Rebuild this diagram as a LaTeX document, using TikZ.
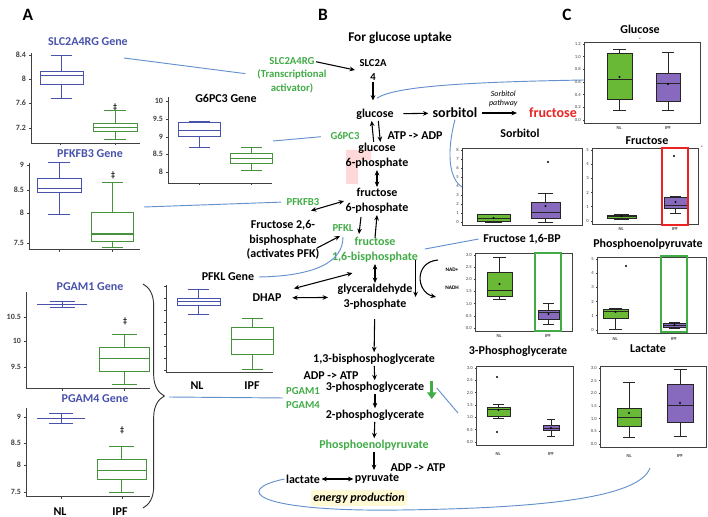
\documentclass[tikz,border=0pt]{standalone}
\usepackage{fontspec}
\setmainfont{Carlito}
\usepackage{tikz}
\usetikzlibrary{calc}
\usetikzlibrary{decorations.pathreplacing}
\usetikzlibrary{arrows.meta,arrows}

\definecolor{geneblue}{RGB}{72,82,170}
\definecolor{ipfgreen}{RGB}{70,145,60}
\definecolor{enzgreen}{RGB}{65,172,70}
\definecolor{linkblue}{RGB}{100,145,205}
\definecolor{nlfill}{RGB}{105,185,55}
\definecolor{ipffill}{RGB}{135,105,190}
\definecolor{frured}{RGB}{235,35,35}
\definecolor{glow}{RGB}{255,250,212}

\tikzset{
  met/.style={font=\bfseries\fontsize{9}{11}\selectfont, align=center, inner sep=1pt},
  enz/.style={font=\bfseries\fontsize{8}{10}\selectfont, align=center, inner sep=1pt, text=enzgreen},
  gene/.style={font=\bfseries\fontsize{9}{11}\selectfont, text=geneblue},
  ctitle/.style={font=\bfseries\fontsize{9}{11}\selectfont},
  ticklab/.style={font=\bfseries\fontsize{6}{7}\selectfont, inner sep=1.5pt},
  ctick/.style={font=\fontsize{3.5}{4}\selectfont, inner sep=1pt},
  react/.style={line width=0.8pt, -{Stealth[length=4pt,width=3.5pt]}},
  both/.style={line width=0.8pt, {Stealth[length=4pt,width=3.5pt]}-{Stealth[length=4pt,width=3.5pt]}},
  link/.style={draw=linkblue, line width=0.7pt},
  axis/.style={black!75, line width=0.7pt},
  gbox/.style={line width=0.75pt},
  cbox/.style={black!85, line width=0.5pt},
  cline/.style={black!75, line width=0.5pt},
}

% frame of a metabolite plot: x1, y1, x2, y2, number of steps, tick labels
\newcommand{\cframe}[6]{%
  \draw[cline] (#1,#2) rectangle (#3,#4);
  \foreach \lab [count=\k from 0] in {#6}
    \draw[cline] (#1,{#2+2+\k*(#4-#2-5)/#5}) -- ++(-1.5,0) node[left, ctick] {\lab};
}

\begin{document}
\begin{tikzpicture}[x=0.75pt, y=-0.75pt]
    \useasboundingbox (0,0) rectangle (708,517);

    \node[font=\bfseries\fontsize{13}{15}\selectfont] (labA) at (28,15) {A};
    \node[font=\bfseries\fontsize{13}{15}\selectfont] (labB) at (323,15) {B};
    \node[font=\bfseries\fontsize{13}{15}\selectfont] (labC) at (567,15) {C};

    % ---------- panel A: gene plots
    \node[gene] (slcgene) at (88,42) {SLC2A4RG Gene};
    \draw[axis] (31,53) -- (31,143) -- (140,143);
    \foreach \v/\y in {8.4/55,8/79,7.6/103,7.2/128}
      \draw[axis] (31,\y) -- ++(-2.5,0) node[left, ticklab] {\v};
    \foreach \x in {60,115} \draw[axis] (\x,143) -- ++(0,2.5);
    \node[ticklab] (dag1) at (115,107) {\ddag};

    \node[gene] (pfkgene) at (90,154) {PFKFB3 Gene};
    \draw[axis] (29,163) -- (29,249) -- (140,249);
    \foreach \v/\y in {9/165,8.5/190,8/213,7.5/243}
      \draw[axis] (29,\y) -- ++(-2.5,0) node[left, ticklab] {\v};
    \foreach \x in {59,112} \draw[axis] (\x,249) -- ++(0,2.5);
    \node[ticklab] (dag2) at (113,175) {\ddag};

    \node[font=\bfseries\fontsize{9}{11}\selectfont] (g6gene) at (226,98) {G6PC3 Gene};
    \draw[axis] (168,97) -- (168,183) -- (272,183);
    \foreach \v/\y in {10/101,9.5/119,9/137,8.5/154,8/172}
      \draw[axis] (168,\y) -- ++(-2.5,0) node[left, ticklab] {\v};
    \foreach \x in {199,251} \draw[axis] (\x,183) -- ++(0,2.5);

    \node[font=\bfseries\fontsize{9}{11}\selectfont] (pfklgene) at (228,277) {PFKL Gene};
    \draw[axis] (166,285) -- (166,372) -- (273,372);
    \foreach \y in {286,298,...,370} \draw[axis] (166,\y) -- ++(-2.5,0);
    \node[met] (nl1) at (197,386) {NL};
    \node[met] (ipf1) at (252,386) {IPF};

    \node[gene] (pgam1gene) at (90,287) {PGAM1 Gene};
    \draw[axis] (26,292) -- (26,388) -- (150,388);
    \foreach \v/\y in {10.5/317,10/341,9.5/367}
      \draw[axis] (26,\y) -- ++(-2.5,0) node[left, ticklab] {\v};
    \foreach \x in {62,124} \draw[axis] (\x,388) -- ++(0,2.5);
    \node[ticklab] (dag3) at (125,321) {\ddag};

    \node[gene] (pgam4gene) at (95,399) {PGAM4 Gene};
    \draw[axis] (26,408) -- (26,496) -- (150,496);
    \foreach \v/\y in {9/417,8.5/443,8/465,7.5/492}
      \draw[axis] (26,\y) -- ++(-2.5,0) node[left, ticklab] {\v};
    \foreach \x in {61,122} \draw[axis] (\x,496) -- ++(0,2.5);
    \node[ticklab] (dag4) at (122,430) {\ddag};
    \node[met] (nl2) at (60,512) {NL};
    \node[met] (ipf2) at (120,512) {IPF};

    \foreach \xa/\xb/\wt/\bt/\md/\bb/\wb/\col in {
      40/83/56/72/76/85/99/geneblue, 93/137/111/124/128/132/140/ipfgreen,
      37/81/163/179/189/193/215/geneblue, 91/133/183/213/234/241/247/ipfgreen,
      178/220/122/123/131/137/148/geneblue, 230/272/148/154/159/164/171/ipfgreen,
      177/220/289/298/301/305/314/geneblue, 231/273/318/327/339/354/369/ipfgreen,
      37/87/301/304/304/304/307/geneblue, 99/149/334/347/358/371/384/ipfgreen,
      37/85/413/418/418/418/423/geneblue, 97/146/446/459/470/479/492/ipfgreen}
    {
      \pgfmathsetmacro\xm{(\xa+\xb)/2}
      \pgfmathsetmacro\cw{(\xb-\xa)/4}
      \draw[gbox, draw=\col] (\xa,\bt) rectangle (\xb,\bb) (\xa,\md) -- (\xb,\md)
        (\xm,\bt) -- (\xm,\wt) (\xm-\cw,\wt) -- (\xm+\cw,\wt)
        (\xm,\bb) -- (\xm,\wb) (\xm-\cw,\wb) -- (\xm+\cw,\wb);
    }

    \draw[black!80, line width=0.7pt, decorate, decoration={brace, amplitude=16pt}] (143,284) -- (143,508);

    % ---------- panel B: pathway
    \fill[red!15] (346,150) -- (371,150) -- (371,160) -- (358,160) -- (358,184) -- (346,184) -- cycle;

    \node[met, font=\bfseries\fontsize{10}{12}\selectfont] (uptake) at (400,38) {For glucose uptake};
    \node[enz] (slcrg) at (292,75) {SLC2A4RG\\(Transcriptional\\activator)};
    \node[met, font=\bfseries\fontsize{8}{10}\selectfont] (slc) at (373,70) {SLC2A\\4};
    \node[met] (glc) at (375,114) {glucose};
    \node[met, font=\bfseries\fontsize{10.5}{12}\selectfont] (sorb) at (455,113) {sorbitol};
    \node[met, font=\bfseries\fontsize{10.5}{12}\selectfont, text=frured] (fru) at (553,113) {fructose};
    \node[met] (atp1) at (415,136) {ATP -> ADP};
    \node[enz] (g6pc3) at (345,136) {G6PC3};
    \node[met] (g6p) at (377,156) {glucose\\6-phosphate};
    \node[met] (f6p) at (377,201) {fructose\\6-phosphate};
    \node[enz] (pfkfb3) at (303,202) {PFKFB3};
    \node[met] (f26bp) at (283,240) {Fructose 2,6-\\bisphosphate\\(activates PFK)};
    \node[enz] (pfkl) at (343,228) {PFKL};
    \node[met, text=enzgreen] (f16bp) at (375,250) {fructose\\1,6-bisphosphate};
    \node[met] (gap) at (375,297) {glyceraldehyde\\3-phosphate};
    \node[met] (dhap) at (267,298) {DHAP};
    \node[font=\bfseries\fontsize{4}{5}\selectfont] (nadp) at (452,270) {NAD+};
    \node[font=\bfseries\fontsize{4}{5}\selectfont] (nadh) at (452,288) {NADH};
    \node[met] (bpg) at (374,359) {1,3-bisphosphoglycerate};
    \node[met] (adp1) at (331,376) {ADP -> ATP};
    \node[met] (pg3) at (375,387) {3-phosphoglycerate};
    \node[enz] (pgam) at (303,398) {PGAM1\\PGAM4};
    \node[met] (pg2) at (375,415) {2-phosphoglycerate};
    \node[met, text=enzgreen] (pep) at (374,445) {Phosphoenolpyruvate};
    \node[met] (adp2) at (418,468) {ADP -> ATP};
    \node[met] (lac) at (303,479) {lactate};
    \node[met] (pyr) at (377,479) {pyruvate};
    \node[met, font=\bfseries\itshape\fontsize{9}{11}\selectfont, fill=glow, inner sep=2pt] (energy) at (359,498) {energy production};

    \draw[react] ($(slcrg.north east)+(-12,6)$) -- ($(slc.west)+(-3,0)$);
    \draw[react, shorten >=5pt] (slc.south) -- (slc.south |- glc.north);
    \draw[react, shorten <=6pt, shorten >=2pt] (glc) -- (sorb);
    \draw[react, shorten <=2pt, shorten >=8pt] (sorb) -- node[above=1pt, font=\itshape\fontsize{6}{7}\selectfont, align=center] {Sorbitol\\pathway} (fru);
    \draw[react] ([xshift=-2.5pt]g6p.north) -- ([xshift=-2.5pt]glc.south);
    \draw[react] ([xshift=2.5pt]glc.south) -- ([xshift=2.5pt]g6p.north);
    \draw[both] (g6p) -- (f6p);
    \draw[both] ($(f26bp.north east)+(-10,-8)$) -- (f6p.west);
    \draw[react] ($(f26bp.east)+(-4,8)$) -- ($(pfkl.south)+(-3,3)$);
    \draw[react] ($(f6p.south)+(-16,2)$) -- ($(f16bp.north)+(-16,-2)$);
    \draw[react] ($(f16bp.north)+(0,2)$) -- (f6p.south);
    \draw[both] (f16bp) -- (gap);
    \draw[both, shorten <=7pt, shorten >=6pt] (dhap) -- (gap);
    \draw[both] ($(dhap.north east)+(11,-4)$) -- ($(f16bp.south west)+(22,9)$);
    \draw[react] ($(f16bp.east)+(-4,10)$) -- ($(f16bp.east |- gap.center)+(-4,0)$);
    \coordinate (nadtop) at (438,260);
    \coordinate (nadbot) at (436,297);
    \draw[react] (nadtop) .. controls (414,262) and (416,292) .. (nadbot);
    \draw[react, shorten <=6pt] (gap) -- (bpg);
    \draw[react] (bpg) -- (pg3);
    \draw[react] (pg3) -- (pg2);
    \draw[react] (pg2) -- (pep);
    \draw[react, shorten >=2pt] (pep.south) -- (pep.south |- pyr.north);
    \draw[both] (lac) -- (pyr);
    \draw[enzgreen, line width=2.2pt, -{Triangle[length=5pt,width=7pt]}] ($(pg3.east)+(6,-6)$) -- ($(pg3.east)+(6,12)$);

    % ---------- panel C: metabolite plots
    \node[ctitle] (glctitle) at (640,29) {Glucose};
    \node[ctitle] (sorbtitle) at (520,133) {Sorbitol};
    \node[ctitle] (frutitle) at (647,141) {Fructose};
    \node[ctitle] (fbptitle) at (522,239) {Fructose 1,6-BP};
    \node[ctitle] (peptitle) at (648,244) {Phosphoenolpyruvate};
    \node[ctitle] (pgtitle) at (518,351) {3-Phosphoglycerate};
    \node[ctitle] (lactitle) at (648,349) {Lactate};
    \node[font=\fontsize{5}{6}\selectfont] (glcmark) at (640,39) {-};
    \node[font=\fontsize{5}{6}\selectfont] (frumark) at (702,147) {-};

    \cframe{584}{42}{700}{123}{6}{1.2,1.0,0.8,0.6,0.4,0.2,0.0}
    \cframe{462}{148}{582}{225}{8}{8,7,6,5,4,3,2,1,0}
    \cframe{592}{148}{698}{224}{5}{5,4,3,2,1,0}
    \cframe{475}{253}{572}{331}{6}{3.0,2.5,2.0,1.5,1.0,0.5,0.0}
    \cframe{597}{257}{706}{333}{5}{5,4,3,2,1,0}
    \cframe{476}{366}{573}{445}{6}{3.0,2.5,2.0,1.5,1.0,0.5,0.0}
    \cframe{600}{366}{706}{447}{6}{3.0,2.5,2.0,1.5,1.0,0.5,0.0}

    \foreach \x/\y/\t in {619/128/NL, 668/128/IPF, 621/229/NL, 675/229/IPF,
      499/336/NL, 548/336/IPF, 615/339/NL, 674/339/IPF,
      498/454/NL, 551/454/IPF, 629/456/NL, 680/456/IPF}
      \node[ctick] at (\x,\y) {\t};

    \foreach \xa/\xb/\wt/\bt/\md/\bb/\wb/\mn/\col in {
      607/632/49/53/79/99/110/77/nlfill, 656/680/52/73/83/101/110/84/ipffill,
      477/510/214/214/218/221/222/218/nlfill, 531/560/193/202/212/218/222/206/ipffill,
      607/636/214/215/216/218/219/216/nlfill, 664/687/196/197/205/208/213/202/ipffill,
      487/512/257/272/290/296/299/284/nlfill, 538/559/303/310/312/319/324/314/ipffill,
      603/628/308/309/311/318/329/312/nlfill, 663/686/322/323/325/327/328/325/ipffill,
      487/510/404/407/409/416/418/410/nlfill, 543/559/419/425/428/430/436/428/ipffill,
      617/641/382/408/417/426/437/413/nlfill, 667/693/369/384/405/422/436/403/ipffill}
    {
      \pgfmathsetmacro\xm{(\xa+\xb)/2}
      \pgfmathsetmacro\cw{(\xb-\xa)/4}
      \draw[cbox] (\xm,\bt) -- (\xm,\wt) (\xm-\cw,\wt) -- (\xm+\cw,\wt)
        (\xm,\bb) -- (\xm,\wb) (\xm-\cw,\wb) -- (\xm+\cw,\wb);
      \draw[cbox, fill=\col] (\xa,\bt) rectangle (\xb,\bb);
      \draw[cbox] (\xa,\md) -- (\xb,\md);
      \fill (\xm,\mn) circle (0.8pt);
    }
    \foreach \p in {(548,162),(674,156),(626,266),(497,377),(497,432)}
      \fill \p circle (0.8pt);

    \draw[frured, line width=1.3pt] (662,148) rectangle (688,225);
    \draw[enzgreen, line width=1.3pt] (535,253) rectangle (561,331);
    \draw[enzgreen, line width=1.3pt] (661,256) rectangle (687,332);

    % ---------- links between panels
    \coordinate (slcplot) at (124,58);
    \coordinate (g6plot) at (273,141);
    \coordinate (pfkplot) at (144,207);
    \coordinate (bracetip) at (169,397);
    \coordinate (glcplot) at (584,80);
    \coordinate (glcin) at ($(glc.north)+(2,-9)$);
    \coordinate (sorbplot) at (462,187);
    \coordinate (pgdown) at ($(pg3.east)+(11,1)$);
    \coordinate (pgplot) at (458,413);
    \coordinate (lacplot) at (650,468);

    \draw[link, shorten >=8pt] (slcplot) -- (slcrg.west);
    \draw[link, shorten >=6pt] (g6plot) -- (g6pc3.west);
    \draw[link, shorten >=3pt] (pfkplot) -- (pfkfb3.west);
    \draw[link] (pfklgene.east) .. controls (315,276) and (343,262) .. ($(pfkl.south)+(0,4)$);
    \draw[link, shorten >=1pt] (bracetip) -- (pgam.west);
    \draw[link] (glcplot) .. controls (470,82) and (395,86) .. (glcin);
    \draw[link] (sorb.south) .. controls (447,150) and (448,178) .. (sorbplot);
    \draw[link, shorten <=4pt] (f16bp.east) -- (fbptitle.west);
    \draw[link] (pgdown) -- (pgplot);
    \draw[link] (lac.west) .. controls (232,490) and (255,512) .. (400,510) .. controls (560,508) and (640,495) .. (lacplot);
\end{tikzpicture}
\end{document}
